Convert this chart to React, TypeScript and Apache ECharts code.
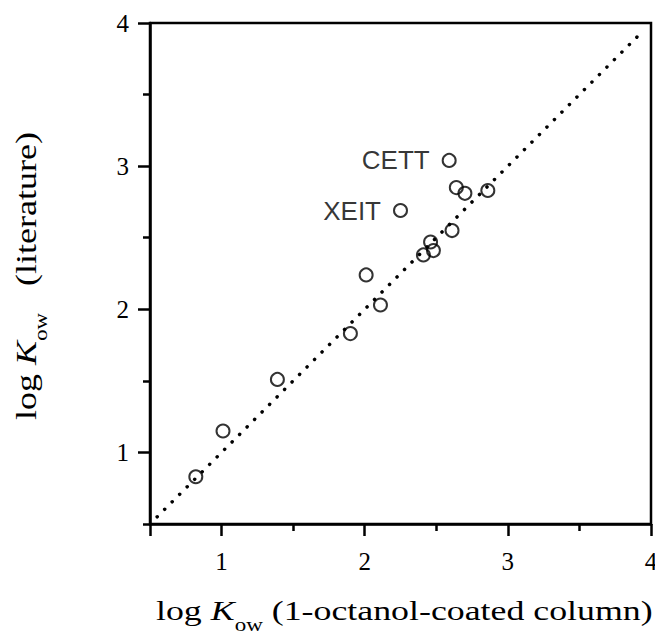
import React, { useEffect, useRef } from 'react';
import * as echarts from 'echarts';

// tick positions / labels
const xMajorTicks = [0.5, 1, 2, 3, 4];
const xMinorTicks = [1.5, 2.5, 3.5];
const yMajorTicks = [1, 2, 3, 4];
const yMinorTicks = [0.5, 1.5, 2.5, 3.5];
const tickLabels = [1, 2, 3, 4];

// data: log Kow (1-octanol-coated column) vs log Kow (literature)
const kowColumn = [0.82, 1.01, 1.39, 1.9, 2.01, 2.11, 2.25, 2.41, 2.46, 2.48, 2.59, 2.61, 2.64, 2.7, 2.86];
const kowLiterature = [0.83, 1.15, 1.51, 1.83, 2.24, 2.03, 2.69, 2.38, 2.47, 2.41, 3.04, 2.55, 2.85, 2.81, 2.83];
const pointNames = ['', '', '', '', '', '', 'XEIT', '', '', '', 'CETT', '', '', '', ''];
const oneToOne = [0.55, 3.95];

const SERIF = '"Liberation Serif", "Times New Roman", serif';
const SANS = '"Liberation Sans", Arial, sans-serif';

export default function App() {
  const ref = useRef<HTMLDivElement>(null);
  useEffect(() => {
    document.body.style.margin = '0';
    const chart = echarts.init(ref.current!, null, { renderer: 'svg' });
    const axisCommon = {
      type: 'value',
      min: 0.5,
      max: 4,
      interval: 0.5,
      splitLine: { show: false },
    };
    const option: any = {
      animation: false,
      backgroundColor: '#fff',
      grid: {
        left: 150,
        top: 23,
        right: 4,
        bottom: 111,
        containLabel: false,
        outerBoundsMode: 'none',
        show: true,
        borderColor: '#000',
        borderWidth: 2.5,
        backgroundColor: 'transparent',
      },
      xAxis: [
        {
          ...axisCommon,
          position: 'bottom',
          axisLine: { show: true, onZero: false, lineStyle: { color: '#000', width: 2.5 } },
          axisTick: { show: true, length: 12, customValues: xMajorTicks, lineStyle: { color: '#000', width: 2.5 } },
          axisLabel: {
            show: true,
            customValues: tickLabels,
            fontFamily: SERIF,
            fontSize: 25,
            color: '#000',
            margin: 25,
          },
        },
        {
          ...axisCommon,
          position: 'bottom',
          axisLine: { show: false, onZero: false },
          axisTick: { show: true, length: 7, customValues: xMinorTicks, lineStyle: { color: '#000', width: 2.5 } },
          axisLabel: { show: false },
        },
      ],
      yAxis: [
        {
          ...axisCommon,
          position: 'left',
          axisLine: { show: true, onZero: false, lineStyle: { color: '#000', width: 2.5 } },
          axisTick: { show: true, length: 12, customValues: yMajorTicks, lineStyle: { color: '#000', width: 2.5 } },
          axisLabel: {
            show: true,
            customValues: tickLabels,
            fontFamily: SERIF,
            fontSize: 25,
            color: '#000',
            margin: 21,
          },
        },
        {
          ...axisCommon,
          position: 'left',
          axisLine: { show: false, onZero: false },
          axisTick: { show: true, length: 7, customValues: yMinorTicks, lineStyle: { color: '#000', width: 2.5 } },
          axisLabel: { show: false },
        },
      ],
      series: [
        {
          type: 'line',
          xAxisIndex: 0,
          yAxisIndex: 0,
          data: [
            [oneToOne[0], oneToOne[0]],
            [oneToOne[1], oneToOne[1]],
          ],
          symbol: 'none',
          silent: true,
          z: 1,
          lineStyle: { color: '#000', width: 3.5, type: [0.1, 10.5], cap: 'round' },
        },
        {
          type: 'scatter',
          xAxisIndex: 0,
          yAxisIndex: 0,
          symbol: 'circle',
          symbolSize: 13,
          silent: true,
          z: 3,
          itemStyle: { color: 'rgba(0,0,0,0)', borderColor: '#000', borderWidth: 2 },
          label: {
            show: false,
            position: 'left',
            distance: 12,
            fontFamily: SANS,
            fontSize: 26,
            color: '#000',
          },
          data: kowColumn.map((x, i) => ({
            value: [x, kowLiterature[i]],
            label: pointNames[i] ? { show: true, formatter: pointNames[i] } : { show: false },
          })),
        },
      ],
      graphic: [
        {
          type: 'text',
          x: 156,
          y: 610,
          scaleX: 1.28,
          silent: true,
          style: {
            text: '{a|log }{k|K}{s|ow}{a| (1-octanol-coated column)}',
            align: 'left',
            verticalAlign: 'middle',
            fill: '#000',
            rich: {
              a: { fontFamily: SERIF, fontSize: 28, fill: '#000' },
              k: { fontFamily: SERIF, fontSize: 28, fontStyle: 'italic', fill: '#000' },
              s: { fontFamily: SERIF, fontSize: 18, fill: '#000', padding: [30, 0, 0, 0] },
            },
          },
        },
        {
          type: 'text',
          x: 26,
          y: 276,
          rotation: Math.PI / 2,
          scaleX: 1.2,
          silent: true,
          style: {
            text: '{a|log }{k|K}{s|ow}{a|   (literature)}',
            align: 'center',
            verticalAlign: 'middle',
            fill: '#000',
            rich: {
              a: { fontFamily: SERIF, fontSize: 30, fill: '#000' },
              k: { fontFamily: SERIF, fontSize: 30, fontStyle: 'italic', fill: '#000' },
              s: { fontFamily: SERIF, fontSize: 19, fill: '#000', padding: [30, 0, 0, 0] },
            },
          },
        },
      ],
    };
    chart.setOption(option);
    return () => chart.dispose();
  }, []);
  return <div ref={ref} style={{ position: 'absolute', left: 0, top: 0, width: 655, height: 635 }} />;
}
